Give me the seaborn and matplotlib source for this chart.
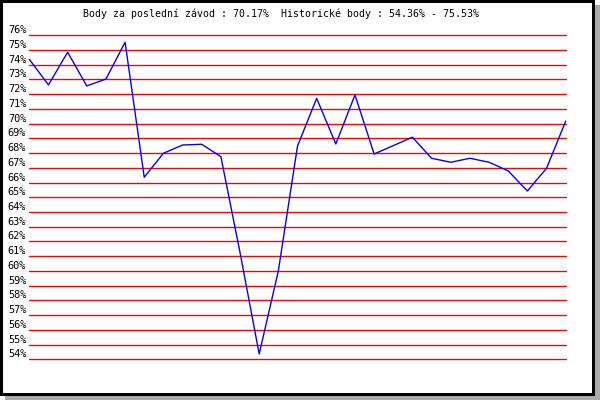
import numpy as np
import pandas as pd
import matplotlib
matplotlib.use('Agg')
import matplotlib.pyplot as plt
from matplotlib.patches import Rectangle
from matplotlib.transforms import ScaledTranslation
import seaborn as sns

# points per race
body = [74.37, 72.63, 74.85, 72.56, 73.03, 75.53, 66.36, 67.99, 68.55, 68.60,
        67.76, 61.25, 54.36, 60.00, 68.48, 71.72, 68.62, 71.95, 67.94, 68.51,
        69.08, 67.65, 67.38, 67.65, 67.38, 66.79, 65.43, 66.97, 70.17]
zavod = list(range(len(body)))
yticks = list(range(54, 77))
ylabels = [f"{v}%" for v in yticks]
title = "Body za poslední závod : 70.17%  Historické body : 54.36% - 75.53%"

sns.set_style("white")
plt.rcParams['font.family'] = ['DejaVu Sans Mono']

W, H = 600, 400
fig = plt.figure(figsize=(6, 4), dpi=100)
fig.patch.set_facecolor('white')

# frame with drop shadow
fig.patches.append(Rectangle((5 / W, 0), 595 / W, 395 / H, transform=fig.transFigure,
                             facecolor='#aaaaaa', edgecolor='none', zorder=-3))
fig.patches.append(Rectangle((0, 4 / H), 595 / W, 396 / H, transform=fig.transFigure,
                             facecolor='black', edgecolor='none', zorder=-2))
fig.patches.append(Rectangle((2.5 / W, 6.7 / H), 589.2 / W, 390.8 / H, transform=fig.transFigure,
                             facecolor='white', edgecolor='none', zorder=-1))

left, right, top, bottom = 29.3, 565.7, 35.3, 359.3
ax = fig.add_axes([left / W, 1 - bottom / H, (right - left) / W, (bottom - top) / H])
ax.set_facecolor('none')
for s in ax.spines.values():
    s.set_visible(False)

for v in yticks:
    ax.axhline(v, color='red', lw=1.0, clip_on=False, zorder=1)

df = pd.DataFrame({'zavod': zavod, 'body': body})
sns.lineplot(data=df, x='zavod', y='body', ax=ax, color='#0000ff', lw=1.0, zorder=2)
for l in ax.lines:
    l.set_clip_on(False)

ax.set_xlim(0, len(body) - 1)
ax.set_ylim(54, 76)
ax.set_xticks([])
ax.set_yticks(yticks)
ax.set_yticklabels(ylabels)
ax.tick_params(axis='y', length=0, pad=2.2, labelsize=7.4, labelcolor='black')
ax.set_xlabel('')
ax.set_ylabel('')
offset = ScaledTranslation(0, 6 / 100, fig.dpi_scale_trans)
for lbl in ax.get_yticklabels():
    lbl.set_transform(lbl.get_transform() + offset)

fig.text(83 / W, 1 - 13.3 / H, title, ha='left', va='center', fontsize=7.15, color='black')

fig.savefig('out.png', dpi=100)
